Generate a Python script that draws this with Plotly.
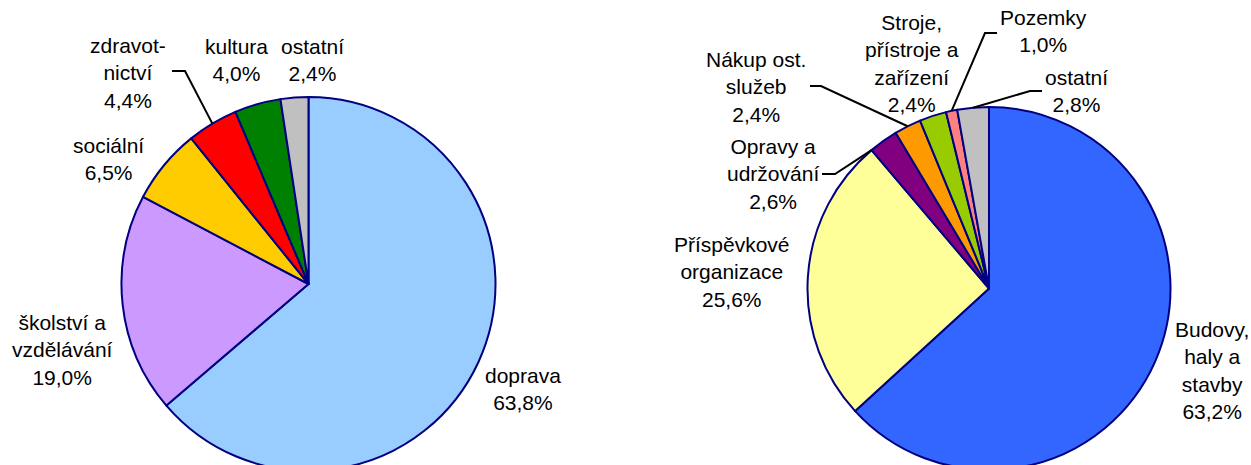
import math
import plotly.graph_objects as go

# ---------------- data ----------------
left_labels = ["doprava", "školství a<br>vzdělávání", "sociální", "zdravot-<br>nictví", "kultura", "ostatní"]
left_values = [63.8, 19.0, 6.5, 4.4, 4.0, 2.4]
left_colors = ["#99CCFF", "#CC99FF", "#FFCC00", "#FF0000", "#008000", "#C0C0C0"]

right_labels = ["Budovy,<br>haly a<br>stavby", "Příspěvkové<br>organizace", "Opravy a<br>udržování",
                "Nákup ost.<br>služeb", "Stroje,<br>přístroje a<br>zařízení", "Pozemky", "ostatní"]
right_values = [63.2, 25.6, 2.6, 2.4, 2.4, 1.0, 2.8]
right_colors = ["#3366FF", "#FFFF99", "#800080", "#FF9900", "#99CC00", "#FF8080", "#C0C0C0"]

# ---------------- layout geometry (pixels) ----------------
W, H = 1251, 472
FONT = "Liberation Sans, Arial, sans-serif"
FS = 21

pies = [
    dict(labels=left_labels, values=left_values, colors=left_colors, cx=308.5, cy=284.0, r=187.0,
         lab=[(523, 389), (62, 350), (108, 159), (128, 73), (236, 60), (312, 60)],
         lead={3: (172, 185, 71, 0.5)}),
    dict(labels=right_labels, values=right_values, colors=right_colors, cx=989.0, cy=288.5, r=181.5,
         lab=[(1212, 370), (732, 272), (773, 174), (756, 87), (912, 64), (1043, 31), (1076, 91)],
         lead={2: (822, 835, 174, 0.0), 3: (810, 821, 86, 0.5), 5: (997, 985, 33, 0.5), 6: (1042, 1030, 91, 0.5)}),
]

fig = go.Figure()
annotations = []
shapes = []


def px(x):
    return x / W


def py(y):
    return 1 - y / H


for p in pies:
    fig.add_trace(go.Pie(
        labels=[l.replace("<br>", " ") for l in p["labels"]],
        values=p["values"],
        sort=False, direction="clockwise", rotation=0,
        marker=dict(colors=p["colors"], line=dict(color="#000080", width=2)),
        textinfo="none", hoverinfo="label+percent", showlegend=False,
        domain=dict(x=[px(p["cx"] - p["r"]), px(p["cx"] + p["r"])],
                    y=[py(p["cy"] + p["r"]), py(p["cy"] - p["r"])]),
    ))
    total = sum(p["values"])
    cum = 0.0
    for i, (lab, v) in enumerate(zip(p["labels"], p["values"])):
        pct = f"{v:.1f}%".replace(".", ",")
        text = f"{lab}<br>{pct}"
        lx, ly = p["lab"][i]
        annotations.append(dict(x=px(lx), y=py(ly), xref="paper", yref="paper", text=text,
                                showarrow=False, xanchor="center", yanchor="middle", align="center",
                                font=dict(family=FONT, size=FS, color="black")))
        if i in p["lead"]:
            x0, x1, yy, frac = p["lead"][i]
            ang = 2 * math.pi * (cum + frac * v) / total
            ex = p["cx"] + p["r"] * math.sin(ang)
            ey = p["cy"] - p["r"] * math.cos(ang)
            path = f"M {px(x0)},{py(yy)} L {px(x1)},{py(yy)} L {px(ex)},{py(ey)}"
            shapes.append(dict(type="path", xref="paper", yref="paper", path=path,
                               line=dict(color="black", width=2)))
        cum += v

fig.update_layout(
    width=W, height=H, margin=dict(l=0, r=0, t=0, b=0),
    paper_bgcolor="white", plot_bgcolor="white",
    annotations=annotations, shapes=shapes,
    font=dict(family=FONT, size=FS),
)

fig.write_html("out.html", config={"displayModeBar": False},
               post_script="document.body.style.margin='0px';")
